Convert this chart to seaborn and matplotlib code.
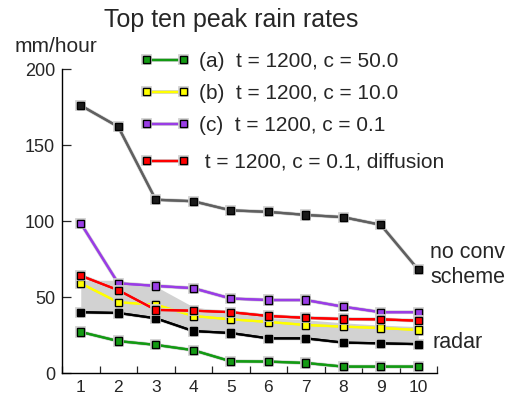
import matplotlib
matplotlib.use("Agg")
import matplotlib.pyplot as plt
import matplotlib.patheffects as pe
import numpy as np
import seaborn as sns

# top ten peak rain rates (mm/hour), rank 1..10
ranks = list(range(1, 11))
no_conv = [176, 162, 114, 113, 107, 106, 104, 102.5, 97.5, 68]
run_a = [27, 21, 18.5, 15, 7.7, 7.5, 6.6, 4.2, 4.2, 4.2]          # c = 50.0
run_b = [59, 46.5, 45, 37.5, 35.3, 33.6, 31.6, 30.5, 29.6, 28.3]  # c = 10.0
run_c = [98.5, 59, 57.3, 55.8, 49, 48, 48, 43.6, 40, 40]          # c = 0.1
run_d = [64, 54.5, 41.5, 41, 40, 37.5, 36.3, 35.5, 35.3, 34.4]    # c = 0.1, diffusion
radar = [40, 39.5, 36, 27.6, 26.3, 22.8, 22.8, 20, 19.5, 19]
radar_upper = [61, 61, 57, 43.5, 40, 36.5, 35, 33, 31.5, 30.5]

labels = ["(a)  t = 1200, c = 50.0", "(b)  t = 1200, c = 10.0",
          "(c)  t = 1200, c = 0.1", " t = 1200, c = 0.1, diffusion"]

sns.set_style("ticks")
plt.rcParams["font.family"] = ["Liberation Sans", "DejaVu Sans"]

fig = plt.figure(figsize=(5.09, 3.94), dpi=100)
ax = fig.add_axes([62 / 509, 21 / 394, 375 / 509, 304 / 394])

halo = [pe.withStroke(linewidth=2.7, foreground="#d0d0d0"), pe.Normal()]

ax.fill_between(ranks, radar, radar_upper, color="#d2d2d2", lw=0, zorder=1)

def draw(vals, color, mfc, label=None):
    sns.lineplot(x=ranks, y=vals, ax=ax, color=color, lw=1.6, marker="s",
                 markersize=5.2, markerfacecolor=mfc, markeredgecolor="black",
                 markeredgewidth=0.9, label=label, legend=False, zorder=3,
                 path_effects=halo)

draw(no_conv, "#606060", "#1a1a1a")
draw(radar, "#000000", "#000000")
draw(run_a, "#139a13", "#139a13", labels[0])
draw(run_b, "#ffff00", "#ffff00", labels[1])
draw(run_c, "#9a3de6", "#9a3de6", labels[2])
draw(run_d, "#ff0000", "#ff0000", labels[3])

ax.set_xlim(0.5, 10.5)
ax.set_ylim(0, 200)
ax.set_xticks(ranks)
ax.set_xticks(np.arange(0.5, 11, 1), minor=True)
ax.set_yticks([0, 50, 100, 150, 200])
ax.tick_params(axis="x", which="major", length=0, pad=5, labelsize=12.5)
ax.tick_params(axis="x", which="minor", direction="in", length=5, width=0.9)
ax.tick_params(axis="y", direction="in", length=6.5, width=0.9, pad=5, labelsize=13)
for s in ["top", "right"]:
    ax.spines[s].set_visible(False)
for s in ["left", "bottom"]:
    ax.spines[s].set_linewidth(1.0)
    ax.spines[s].set_color("black")
ax.set_xlabel("")
ax.set_ylabel("")

handles, labs = ax.get_legend_handles_labels()
fs = 15
leg_kw = dict(frameon=False, fontsize=fs, numpoints=2, handlelength=2.4,
              handletextpad=0.45, borderpad=0, borderaxespad=0, loc="upper left",
              bbox_transform=fig.transFigure)
leg1 = ax.legend(handles[:3], labs[:3], labelspacing=0.62,
                 bbox_to_anchor=(140 / 509, 1 - 52 / 394), **leg_kw)
ax.add_artist(leg1)
ax.legend(handles[3:], labs[3:], bbox_to_anchor=(140 / 509, 1 - 153 / 394), **leg_kw)

fig.text(231 / 509, 1 - 27 / 394, "Top ten peak rain rates", fontsize=18,
         ha="center", va="baseline")
fig.text(15 / 509, 1 - 52 / 394, "mm/hour", fontsize=15, va="baseline")
ax.text(10.32, 71, "no conv\nscheme", fontsize=15.5, va="center", linespacing=1.2)
ax.text(10.37, 20, "radar", fontsize=15.5, va="center")

fig.savefig("out.png", dpi=100)
